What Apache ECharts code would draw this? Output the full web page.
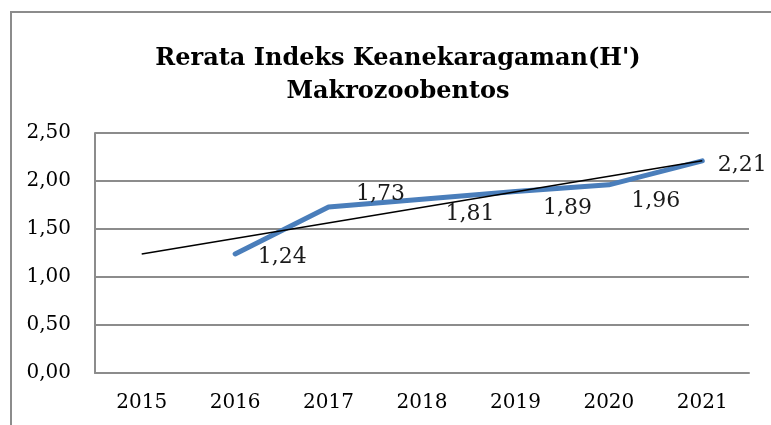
<!DOCTYPE html>
<html><head><meta charset="utf-8">
<script src="https://cdn.jsdelivr.net/npm/echarts@6/dist/echarts.min.js"></script>
<style>
html,body{margin:0;padding:0;background:#fff;overflow:hidden;}
#frame{position:absolute;left:10px;top:11px;width:800px;height:500px;border:2px solid #8c8c8c;}
#c{position:absolute;left:0;top:0;width:771px;height:425px;}
</style></head>
<body>
<div id="frame"></div>
<div id="c"></div>
<script>
var categories = ['2015','2016','2017','2018','2019','2020','2021'];
var indexValues = [null, 1.24, 1.73, 1.81, 1.89, 1.96, 2.21];
var trendValues = [1.24, null, null, null, null, null, 2.21];
var yTicks = [0, 0.5, 1, 1.5, 2, 2.5];

var labelOffsets = [[0,0],[47,3],[52,-13],[48,15],[52,17],[47,16],[40,4]];
var fmt = function(v){ return Number(v).toFixed(2).replace('.', ','); };

var chart = echarts.init(document.getElementById('c'));
chart.setOption({
  animation: false,
  title: {
    text: 'Rerata Indeks Keanekaragaman(H\')\nMakrozoobentos',
    left: 393, textAlign: 'center', top: 37,
    textStyle: {fontFamily: 'DejaVu Serif', fontWeight: 'bold', fontSize: 24, color: '#000', lineHeight: 33}
  },
  grid: {left: 95, right: 22, top: 133, bottom: 52},
  xAxis: {
    type: 'category', data: categories, boundaryGap: true,
    axisLine: {lineStyle: {color: '#8c8c8c', width: 2}},
    axisTick: {show: false},
    axisLabel: {fontFamily: 'DejaVu Serif', fontSize: 20, color: '#000', margin: 20}
  },
  yAxis: {
    type: 'value', min: yTicks[0], max: yTicks[yTicks.length-1], interval: 0.5,
    axisLine: {show: true, lineStyle: {color: '#8c8c8c', width: 2}},
    axisTick: {show: false},
    splitLine: {lineStyle: {color: '#8c8c8c', width: 2}},
    axisLabel: {fontFamily: 'DejaVu Serif', fontSize: 20, color: '#000', margin: 24, formatter: fmt}
  },
  series: [
    {
      type: 'line', data: indexValues.map(function(v, i){
        return {value: v, label: {offset: labelOffsets[i]}};
      }),
      symbol: 'circle', symbolSize: 2, showSymbol: true, itemStyle: {color: 'rgba(0,0,0,0)', borderWidth: 0},
      lineStyle: {color: '#4a7ebb', width: 5, cap: 'round', join: 'round'},
      label: {show: true, position: 'inside', fontFamily: 'DejaVu Serif', fontSize: 22, color: '#1a1a1a', formatter: function(p){ return fmt(p.value); }},
      z: 2
    },
    {
      type: 'line', data: trendValues, connectNulls: true,
      symbol: 'none', lineStyle: {color: '#000', width: 1.5},
      z: 3
    }
  ]
});
</script>
</body></html>
